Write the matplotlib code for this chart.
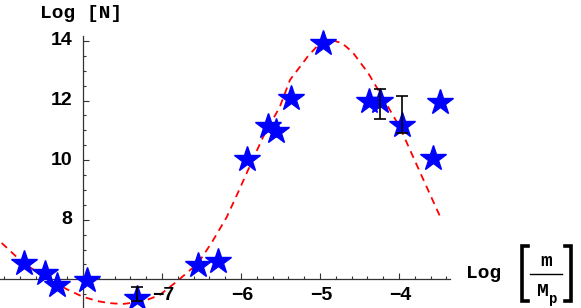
import numpy as np
import matplotlib
matplotlib.use("Agg")
import matplotlib.pyplot as plt
from matplotlib.lines import Line2D

# ── data ─────────────────────────────────────────────────────────────────────

log_m = [-8.75, -8.48, -8.33, -7.95, -7.32, -6.54, -6.29, -5.92, -5.66,
         -5.56, -5.37, -4.96, -4.38, -4.24, -3.96, -3.57, -3.48]
log_n = [6.55, 6.21, 5.81, 5.98, 5.37, 6.48, 6.61, 10.04, 11.14,
         10.98, 12.08, 13.93, 11.98, 11.98, 11.18, 10.07, 11.95]

# error bars (x, y, lower, upper)
err_x  = [-7.32, -4.24, -3.96]
err_y  = [5.37, 11.98, 11.18]
err_lo = [0.10, 0.59, 0.27]
err_hi = [0.38, 0.41, 0.97]

# dashed fit curve
fit_x = [-9.03, -8.76, -8.42, -8.20, -8.00, -7.80, -7.66, -7.50, -7.41, -7.20,
         -7.03, -6.84, -6.78, -6.54, -6.36, -6.18, -6.04, -5.91, -5.72, -5.51,
         -5.38, -5.16, -5.00, -4.85, -4.72, -4.59, -4.39, -4.24, -3.99, -3.82,
         -3.65, -3.46]
fit_y = [7.22, 6.55, 5.98, 5.66, 5.41, 5.26, 5.20, 5.17, 5.20, 5.30,
         5.47, 5.87, 6.00, 6.55, 7.28, 8.09, 8.90, 9.67, 10.78, 11.78,
         12.69, 13.46, 13.93, 14.03, 13.92, 13.63, 12.92, 12.25, 11.11, 10.10,
         9.10, 7.99]

x_ticks = [-7, -6, -5, -4]
y_ticks = [8, 10, 12, 14]

# ── figure ───────────────────────────────────────────────────────────────────

W, H = 581, 308
fig = plt.figure(figsize=(W / 100, H / 100), dpi=100)
ax = fig.add_axes([0, 0, 1, 1])

# pixel mapping: x=-8 at px 83, 79 px/unit ; y=6 at py 279.3, 29.8 px/unit
x0, sx = 83, 79.0
y0, sy = 279.3, 29.8
ax.set_xlim(-8 - x0 / sx, -8 + (W - x0) / sx)
ax.set_ylim(6 - (H - y0) / sy, 6 + y0 / sy)

ax.plot(fit_x, fit_y, color="#ff0000", lw=1.3, dashes=(4, 3), zorder=2)
ax.plot(log_m, log_n, ls="none", marker="*", ms=19, color="#0000ff",
        mec="#0000ff", zorder=3)
ax.errorbar(err_x, err_y, yerr=[err_lo, err_hi], fmt="none", ecolor="black",
            elinewidth=1.2, capsize=4.5, capthick=1.2, zorder=4)

# Mathematica-style axes crossing at (-8, 6)
for s in ["top", "right"]:
    ax.spines[s].set_visible(False)
ax.spines["left"].set_position(("data", -8))
ax.spines["bottom"].set_position(("data", 6))
ax.spines["left"].set_bounds(6 - (H - y0) / sy, 14.17)
ax.spines["bottom"].set_bounds(-9.05, -3.35)
for s in ["left", "bottom"]:
    ax.spines[s].set_color("#333333")
    ax.spines[s].set_linewidth(0.9)

ax.set_xticks(x_ticks)
ax.set_xticks(np.arange(-9.0, -3.3, 0.2), minor=True)
ax.set_yticks(y_ticks)
ax.set_yticks(np.arange(5.5, 14.1, 0.5), minor=True)
ax.tick_params(which="both", direction="in", colors="#333333", width=0.8,
               labelbottom=False, labelleft=False)
ax.tick_params(which="major", length=4)
ax.tick_params(which="minor", length=2.5)

tick_font = dict(family="Liberation Sans", weight="bold", size=14)
for v in x_ticks:
    ax.text(v + 0.02, 6 - 16 / sy, "\u2212" + str(abs(v)), ha="center",
            va="center", **tick_font)
for v in y_ticks:
    ax.text(-8 - 11 / sx, v, str(v), ha="right", va="center", **tick_font)

# axis labels
mono = dict(family="Liberation Mono", weight="bold", size=14)
fig.text(40 / W, 1 - 14 / H, "Log [N]", ha="left", va="center", **mono)

fig.text(466 / W, 1 - 273 / H, "Log", ha="left", va="center", **mono)
fig.text(546 / W, 1 - 262 / H, "m", ha="center", va="center", **mono)
fig.text(543 / W, 1 - 291 / H, "M", ha="center", va="center", **mono)
fig.text(553 / W, 1 - 299 / H, "p", ha="center", va="center",
         family="Liberation Mono", weight="bold", size=10)
fig.add_artist(Line2D([530 / W, 562 / W], [1 - 274 / H, 1 - 274 / H],
                      color="black", lw=1.0))
for bx, d in [(522, 1), (571, -1)]:
    fig.add_artist(Line2D([(bx + d * 6) / W, bx / W, bx / W, (bx + d * 6) / W],
                          [1 - 246 / H, 1 - 246 / H, 1 - 301 / H, 1 - 301 / H],
                          color="black", lw=2.6, solid_joinstyle="miter"))

fig.savefig("out.png", dpi=100)
